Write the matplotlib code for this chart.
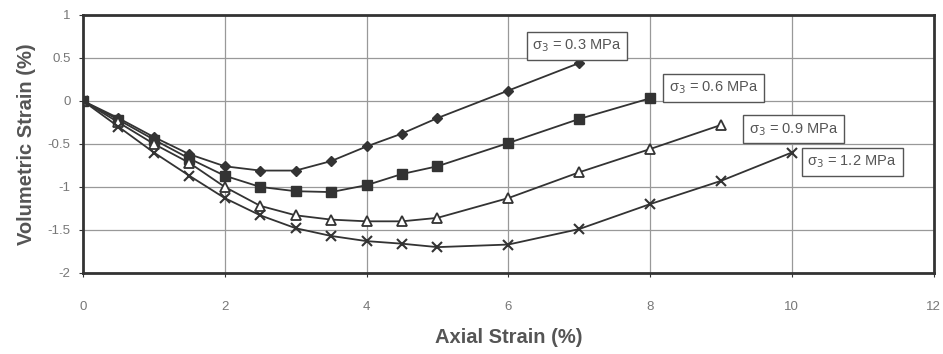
import matplotlib.pyplot as plt

plt.rcParams['font.family'] = ['Liberation Sans', 'DejaVu Sans']

# axial strain (%) and volumetric strain (%) for each confining pressure
axial_03 = [0, 0.5, 1, 1.5, 2, 2.5, 3, 3.5, 4, 4.5, 5, 6, 7]
vol_03 = [0, -0.2, -0.42, -0.62, -0.76, -0.81, -0.81, -0.7, -0.53, -0.38, -0.2, 0.12, 0.44]

axial_06 = [0, 0.5, 1, 1.5, 2, 2.5, 3, 3.5, 4, 4.5, 5, 6, 7, 8]
vol_06 = [0, -0.22, -0.45, -0.67, -0.87, -1.0, -1.05, -1.06, -0.98, -0.85, -0.76, -0.49, -0.21, 0.03]

axial_09 = [0, 0.5, 1, 1.5, 2, 2.5, 3, 3.5, 4, 4.5, 5, 6, 7, 8, 9]
vol_09 = [0, -0.25, -0.5, -0.72, -1.0, -1.22, -1.33, -1.38, -1.4, -1.4, -1.36, -1.13, -0.83, -0.56, -0.28]

axial_12 = [0, 0.5, 1, 1.5, 2, 2.5, 3, 3.5, 4, 4.5, 5, 6, 7, 8, 9, 10]
vol_12 = [0, -0.3, -0.6, -0.87, -1.13, -1.33, -1.48, -1.57, -1.63, -1.66, -1.7, -1.67, -1.49, -1.2, -0.93, -0.6]

labels = ["σ$_3$ = 0.3 MPa", "σ$_3$ = 0.6 MPa", "σ$_3$ = 0.9 MPa", "σ$_3$ = 1.2 MPa"]
label_pos = [(6.34, 0.64), (8.27, 0.15), (9.39, -0.33), (10.22, -0.71)]

series = [
    (axial_03, vol_03, dict(marker='D', markersize=5.5, markerfacecolor='#333333')),
    (axial_06, vol_06, dict(marker='s', markersize=6.5, markerfacecolor='#333333')),
    (axial_09, vol_09, dict(marker='^', markersize=7.5, markerfacecolor='white', markeredgewidth=1.3)),
    (axial_12, vol_12, dict(marker='x', markersize=7.5, markeredgewidth=1.5)),
]

fig = plt.figure(figsize=(9.43, 3.54), dpi=100)
ax = fig.add_axes([0.088, 0.229, 0.902, 0.729])

for x, y, style in series:
    ax.plot(x, y, color='#333333', linewidth=1.3, markeredgecolor='#333333', **style)

for text, (tx, ty) in zip(labels, label_pos):
    ax.text(tx, ty, text, fontsize=10.5, color='#555555', va='center', ha='left',
            bbox=dict(boxstyle='square,pad=0.4', facecolor='white', edgecolor='#555555', linewidth=1))

ax.set_xlim(0, 12)
ax.set_ylim(-2, 1)
ax.set_xticks([0, 2, 4, 6, 8, 10, 12])
ax.set_yticks([1, 0.5, 0, -0.5, -1, -1.5, -2])
ax.set_yticklabels(["1", "0.5", "0", "-0.5", "-1", "-1.5", "-2"])
ax.yaxis.grid(True, color='#999999', linewidth=0.9)
ax.set_axisbelow(True)
for xv in [2, 4, 6, 8, 10]:
    ax.axvline(xv, color='#999999', linewidth=0.9, zorder=0)

ax.tick_params(labelsize=9.5, labelcolor='#777777', color='#333333', length=3)
ax.tick_params(axis='x', pad=17)
ax.tick_params(axis='y', pad=6)
for sp in ax.spines.values():
    sp.set_linewidth(2)
    sp.set_color('#333333')

ax.set_xlabel('Axial Strain (%)', fontsize=14.5, fontweight='bold', color='#555555', labelpad=11)
ax.set_ylabel('Volumetric Strain (%)', fontsize=14.5, fontweight='bold', color='#555555', labelpad=8)

fig.savefig('out.png', dpi=100)
